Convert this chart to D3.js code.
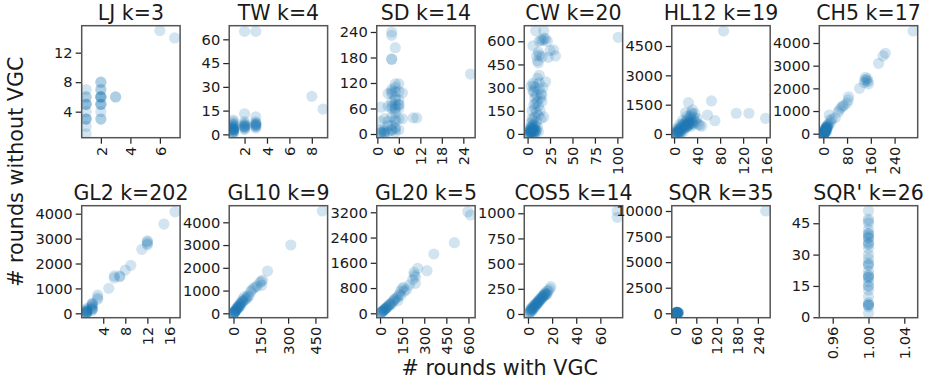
<!DOCTYPE html>
<html>
<head>
<meta charset="utf-8">
<script src="https://cdn.jsdelivr.net/npm/d3@7"></script>
<style>
  html, body { margin: 0; padding: 0; background: #fff; }
  svg { display: block; font-family: "DejaVu Sans", sans-serif; }
</style>
</head>
<body>
<svg id="chart" width="928" height="381"></svg>
<script>
// ---- data: [rounds with VGC, rounds without VGC] per panel ----
const titles = ["LJ k=3", "TW k=4", "SD k=14", "CW k=20", "HL12 k=19", "CH5 k=17",
                "GL2 k=202", "GL10 k=9", "GL20 k=5", "COS5 k=14", "SQR k=35", "SQR' k=26"];

const LJ = [[1,1],[1,2],[1,3],[1,3],[1,3],[1,4],[1,5],[1,5],[1,5],[1,6],[1,6],[1,7],
  [2,3],[2,3],[2,4],[2,5],[2,5],[2,5],[2,6],[2,6],[2,6],[2,6],[2,7],[2,7],[2,8],[2,8],
  [3,6],[3,6],[6,15],[7,14]];

const TW = [[1,1],[1,1],[1,2],[1,2],[1,2],[1,3],[1,3],[1,3],[1,3],[1,4],[1,4],[1,4],[1,5],[1,5],[1,6],[1,6],[1,7],[1,8],[1,9],
  [2,3],[2,4],[2,4],[2,5],[2,5],[2,5],[2,6],[2,6],[2,7],[2,8],[2,13],[2,65],
  [3,4],[3,5],[3,5],[3,6],[3,6],[3,6],[3,7],[3,7],[3,8],[3,11],[3,65],
  [8,24],[9,16]];

const SD = [[1,2],[1,5],[2,3],[2,8],[1,10],[2,1],[1,30],[1,63],[2,36],[3,5],[3,30],[3,65],
  [4,240],[4,232],[5,203],[4,176],[4,176],
  [4,10],[4,20],[4,40],[4,60],[4,75],[4,95],[4,105],[4,8],[4,65],[4,100],
  [5,5],[5,15],[5,30],[5,50],[5,62],[5,70],[5,85],[5,100],[5,110],[5,118],[5,12],[5,80],[5,58],
  [6,10],[6,35],[6,60],[6,80],[6,100],[6,118],[6,68],
  [7,97],[7,36],[3,95],[10,38],[11,38],[26,141],[3,20],[6,70],[5,35],[1,4],[2,6]];

const CW = [[1,5],[2,10],[3,15],[2,25],[4,8],[5,20],[6,35],[3,40],[5,55],[7,12],[8,30],[4,70],[6,90],
  [9,50],[10,20],[7,60],[5,100],[8,110],[10,80],[3,5],[6,5],[9,10],[12,15],[4,28],[11,45],
  [2,3],[3,8],[4,12],[5,6],[6,15],[7,25],[8,8],[2,18],[4,40],[6,50],[3,22],[5,30],[7,40],[9,20],
  [5,150],[7,190],[9,200],[8,235],[10,250],[12,180],[11,210],[6,280],[4,310],[7,310],[9,300],
  [13,290],[15,260],[14,230],[16,210],[12,120],[10,140],[8,165],[14,150],[18,110],[13,330],
  [11,360],[13,380],[17,300],[20,338],[16,250],[15,100],[7,270],[6,328],
  [12,460],[11,473],[10,505],[13,510],[16,500],[12,530],[23,496],[29,544],[31,505],[25,540],
  [13,600],[15,610],[17,605],[20,615],[22,600],[18,620],[6,571],[9,668],[18,668],[101,626]];

const HL12 = [[2,50],[3,100],[5,80],[4,200],[6,150],[8,250],[7,100],[10,300],[9,200],[12,350],
  [11,150],[13,450],[15,400],[14,250],[16,550],[18,500],[17,300],[20,600],[19,400],[21,450],
  [22,700],[23,350],[24,550],[25,800],[26,500],[27,650],[28,900],[29,400],[30,750],[31,1000],
  [32,600],[33,500],[34,850],[35,700],[36,1050],[38,600],[40,800],[42,500],[45,450],[48,400],
  [25,1600],[32,1230],[30,1100],[58,970],[65,1690],[71,680],[86,5270],[108,1060],[130,1060],
  [159,800],[20,1100],[22,900],[15,700],[10,500],[5,300],[3,10],[6,20],[9,30],[12,60],[16,120],
  [4,40],[7,60],[10,120],[13,200],[18,300],[21,350],[24,420],[27,500],[30,550],[26,600],[22,450]];

const CH5 = [[302,4530],[209,3546],[201,3430],[186,3105],[142,2488],[145,2350],[148,2420],[150,2300],
  [138,2250],[152,2200],[140,2380],[122,2000],[85,1630],[84,1490],[80,1350],[70,1250],[65,1220],
  [60,1150],[54,1050],[50,950],[20,825],[23,600],[30,650],[40,700],[25,500],[15,400],[12,350],
  [10,300],[8,250],[6,200],[5,150],[4,100],[3,80],[2,50],[3,30],[5,60],[7,120],[9,180],[11,220],
  [14,280],[16,320],[18,400],[2,10],[1,5],[4,20],[6,40],[8,90],[12,150],[10,80],
  [1,20],[2,30],[3,45],[4,70],[5,100],[6,130],[7,160],[8,200],[9,240],[11,270],[13,300],[3,15]];

const GL2 = [[17,4077],[15,3583],[12,2913],[12,2800],[12,2870],[12,2750],[11,2568],[9,1926],[8,1738],
  [7,1469],[7,1500],[6,1500],[6,1420],[5,1003],[3,734],[3,560],[3,620],[2,400],[2,350],[2,250],
  [1,100],[1,50],[1,150],[1,200],[1,80],[1,30],[2,120],[2,300],[1,10],[2,180],
  [1,20],[1,60],[1,120],[2,200],[2,150],[1,40],[2,380]];

const GL10 = [[488,4497],[315,3002],[187,1859],[160,1464],[155,1230],[152,1400],[145,1350],[130,1200],
  [100,1024],[95,950],[80,800],[60,730],[70,650],[50,600],[45,500],[40,450],[35,400],[30,350],
  [25,300],[20,250],[15,200],[10,120],[5,60],[2,20],[8,80],[12,100],[18,150],[22,200],[28,250],
  [33,300],[38,330],[55,550],[65,600],[75,700],[85,750],[110,1100],[120,1150],[3,10],[1,5],[6,40],
  [4,30],[7,70],[14,160],[24,260],[42,420],[52,520]];

const GL20 = [[596,3220],[614,3115],[505,2237],[365,1879],[319,1350],[256,1426],[233,1214],[240,950],
  [222,1070],[240,1150],[230,1300],[161,824],[150,780],[140,700],[130,600],[120,520],[110,480],
  [100,450],[90,380],[80,340],[70,300],[60,250],[50,200],[40,160],[30,120],[20,80],[10,40],[5,20],
  [15,50],[25,100],[35,140],[45,190],[55,230],[140,560],[165,700],[180,750],[200,900],[120,400],
  [95,420],[75,280],[8,30],[18,60],[28,110],[38,150],[65,270]];

const COS5 = [[74,1023],[74,960],[19,271],[18,250],[16,230],[15,200],[14,210],[13,190],[12,170],
  [11,160],[10,140],[9,130],[8,110],[7,100],[6,85],[5,70],[4,55],[3,40],[2,30],[1,15],[2,20],
  [3,25],[4,45],[5,60],[6,75],[7,90],[8,100],[9,120],[10,130],[11,150],[12,160],[13,175],
  [14,185],[15,190],[16,200],[17,230],[1,10],[2,45],[3,60],[4,70],[5,90],
  [6,95],[8,120],[10,150],[12,180],[14,200],[3,50],[7,110],[9,140]];

const SQR = [[263,10000],[1,10],[2,30],[3,50],[4,70],[5,90],[6,20],[7,40],[8,60],[3,80],[2,100],[5,30],[4,60],
  [1,40],[2,60],[3,20],[4,10],[5,50],[6,80],[7,15],[1,70],[2,90],[3,110]];

const SQRp = [[1,2],[1,5],[1,6],[1,6],[1,6],[1,7],[1,10],[1,13],[1,15],[1,15],[1,17],[1,19],[1,19],[1,20],[1,20],
  [1,22],[1,25],[1,25],[1,26],[1,28],[1,30],[1,33],[1,35],[1,35],[1,36],[1,38],[1,38],[1,39],
  [1,40],[1,40],[1,42],[1,45],[1,46],[1,47],[1,51]];

const datasets = [LJ, TW, SD, CW, HL12, CH5, GL2, GL10, GL20, COS5, SQR, SQRp];

// axis limits
const xDomains = [[0.70,7.37],[0.63,9.41],[-0.17,27.3],[-3.7,105.9],[-4,167],[-13.5,317.8],
                  [0.1,17.93],[-23.5,517],[-22.4,645.5],[-3.1,78.5],[-11.7,276],[0.945,1.055]];
const yDomains = [[0.47,15.66],[-2.1,68.6],[-8.7,254.8],[-24.6,701],[-189,5538],[-176,4763],
                  [-176,4321],[-193,4730],[-139,3409],[-37,1075],[-430,10518],[-0.2,53.4]];

const xTicks = [[2,4,6],[2,4,6,8],[0,6,12,18,24],[0,25,50,75,100],[0,40,80,120,160],[0,80,160,240],
                [4,8,12,16],[0,150,300,450],[0,150,300,450,600],[0,20,40,60],[0,60,120,180,240],[0.96,1.00,1.04]];
const yTicks = [[4,8,12],[0,15,30,45,60],[0,60,120,180,240],[0,150,300,450,600],[0,1500,3000,4500],
                [0,1000,2000,3000,4000],[0,1000,2000,3000,4000],[0,1000,2000,3000,4000],
                [0,800,1600,2400,3200],[0,250,500,750,1000],[0,2500,5000,7500,10000],[0,15,30,45]];

const xLabel = "# rounds with VGC";
const yLabel = "# rounds without VGC";

// ---- layout ----
const svg = d3.select("#chart");
const colLeft0 = 81.7, colStep = 147.52, pw = 98.4, ph = 112;
const rowTops = [25.7, 205.7];
const tickLen = 6, tickPad = 3;
const fontTick = 14.67, fontTitle = 20.5, fontLabel = 20.7;
const color = "#1f77b4";

datasets.forEach((data, i) => {
  const row = Math.floor(i / 6), col = i % 6;
  const left = colLeft0 + col * colStep, top = rowTops[row];
  const x = d3.scaleLinear().domain(xDomains[i]).range([0, pw]);
  const y = d3.scaleLinear().domain(yDomains[i]).range([ph, 0]);
  const g = svg.append("g").attr("transform", `translate(${left},${top})`);

  g.append("defs").append("clipPath").attr("id", "clip" + i)
    .append("rect").attr("width", pw).attr("height", ph);

  g.append("g").attr("clip-path", `url(#clip${i})`)
    .selectAll("circle").data(data).join("circle")
    .attr("cx", d => x(d[0])).attr("cy", d => y(d[1]))
    .attr("r", 5.6).attr("fill", color).attr("fill-opacity", 0.2);

  // axes
  const fmtX = i === 11 ? d3.format(".2f") : d => String(d);
  const xAxis = d3.axisBottom(x).tickValues(xTicks[i]).tickSize(tickLen).tickPadding(tickPad).tickFormat(fmtX);
  const yAxis = d3.axisLeft(y).tickValues(yTicks[i]).tickSize(tickLen).tickPadding(tickPad).tickFormat(d => String(d));

  const gx = g.append("g").attr("transform", `translate(0,${ph})`).call(xAxis);
  gx.select(".domain").remove();
  gx.selectAll(".tick line").attr("stroke", "#262626").attr("stroke-width", 1.25);
  gx.selectAll(".tick text")
    .attr("font-size", fontTick).attr("fill", "#1a1a1a").attr("font-family", "DejaVu Sans")
    .attr("text-anchor", "end")
    .attr("transform", `translate(0,${tickLen + tickPad}) rotate(-90)`)
    .attr("x", 0).attr("y", 0).attr("dy", "0.35em");

  const gy = g.append("g").call(yAxis);
  gy.select(".domain").remove();
  gy.selectAll(".tick line").attr("stroke", "#262626").attr("stroke-width", 1.25);
  gy.selectAll(".tick text").attr("font-size", fontTick).attr("fill", "#1a1a1a").attr("font-family", "DejaVu Sans");

  g.append("rect").attr("width", pw).attr("height", ph)
    .attr("fill", "none").attr("stroke", "#555").attr("stroke-width", 1.5);

  g.append("text").attr("x", pw / 2).attr("y", -5.7)
    .attr("text-anchor", "middle").attr("font-size", fontTitle).attr("fill", "#1a1a1a")
    .text(titles[i]);
});

svg.append("text").attr("x", (colLeft0 + colLeft0 + 5 * colStep + pw) / 2).attr("y", 375)
  .attr("text-anchor", "middle").attr("font-size", fontLabel).attr("fill", "#1a1a1a").text(xLabel);

svg.append("text").attr("transform", `translate(22.7,171.7) rotate(-90)`)
  .attr("text-anchor", "middle").attr("font-size", fontLabel).attr("fill", "#1a1a1a").text(yLabel);
</script>
</body>
</html>
